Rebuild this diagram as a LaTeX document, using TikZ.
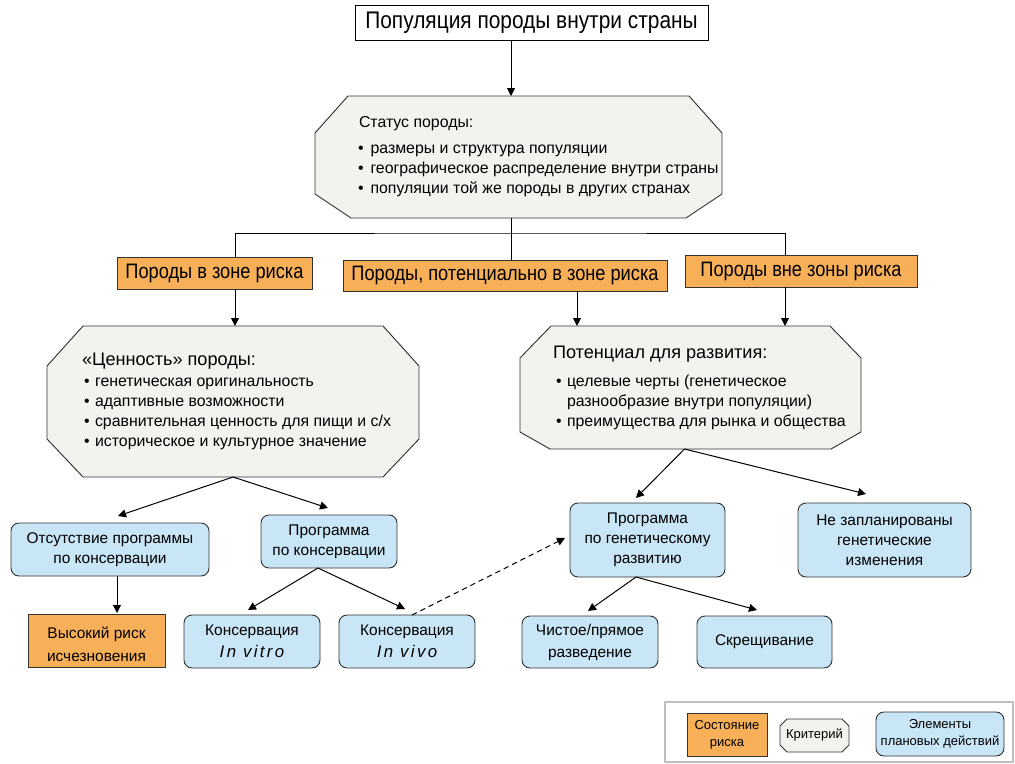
\documentclass[tikz,border=0pt]{standalone}
\usepackage{fontspec}
\setmainfont{Liberation Sans}
\newfontfamily\narrowfont[FakeStretch=0.87]{Liberation Sans}
\usetikzlibrary{arrows.meta,calc}
\definecolor{riskor}{HTML}{F7B058}
\definecolor{planblue}{HTML}{C8E6F6}
\definecolor{critgray}{HTML}{F3F2EE}
\definecolor{edgec}{HTML}{333333}
% octagon drawn on a placed node: name, top dx, top dy, bottom dx, bottom dy
\newcommand\octa[5]{%
  \draw[octline] ($(#1.north west)+(#2,0)$) -- ($(#1.north east)+(-#2,0)$)
    -- ($(#1.north east)+(0,#3)$) -- ($(#1.south east)+(0,-#5)$)
    -- ($(#1.south east)+(-#4,0)$) -- ($(#1.south west)+(#4,0)$)
    -- ($(#1.south west)+(0,-#5)$) -- ($(#1.north west)+(0,#3)$) -- cycle;}
\begin{document}
\begin{tikzpicture}[x=0.75pt,y=-0.75pt,
  every node/.style={inner sep=0pt,outer sep=0pt},
  area/.style n args={4}{at={({(#1+#3)/2},{(#2+#4)/2})},
     minimum width={(#3-#1)*0.75pt},minimum height={(#4-#2)*0.75pt}},
  octline/.style={draw=edgec,line width=0.7pt,fill=critgray},
  titlebox/.style={draw=black,line width=0.7pt,fill=white,font=\narrowfont\fontsize{18}{20}\selectfont},
  riskhead/.style={draw=edgec,line width=0.7pt,fill=riskor,font=\narrowfont\fontsize{15.7}{18}\selectfont},
  riskbox/.style={draw=edgec,line width=0.7pt,fill=riskor,align=center,font=\fontsize{11.6}{17}\selectfont},
  planbox/.style={draw=edgec,line width=0.7pt,fill=planblue,rounded corners=6pt,align=center,font=\fontsize{11.6}{15}\selectfont},
  hdr/.style={anchor=base west,font=\fontsize{13.6}{16}\selectfont},
  btext/.style={anchor=base west,font=\fontsize{11.9}{15}\selectfont},
  legtext/.style={align=center,font=\fontsize{9.75}{12.75}\selectfont},
  ln/.style={draw=black,line width=0.75pt},
  arr/.style={ln,-{Triangle[length=6pt,width=6pt]}},
  darr/.style={arr,dashed,dash pattern=on 4pt off 3pt}]
\fill[white] (0,0) rectangle (1015,764);
\useasboundingbox (0,0) rectangle (1015,764);

% top
\node[titlebox,area={355}{5}{708}{40}] (title) {Популяция породы внутри страны};

% status octagon
\node[area={315}{96}{722}{218}] (status) {};
\octa{status}{33}{37}{36}{24}
\node[btext] (sh) at (359,127) {Статус породы:};
\node[btext] (s1) at (358,153) {\makebox[9.4pt][l]{•}размеры и структура популяции};
\node[btext] (s2) at (358,173) {\makebox[9.4pt][l]{•}географическое распределение внутри страны};
\node[btext] (s3) at (358,193) {\makebox[9.4pt][l]{•}популяции той же породы в других странах};

% risk categories
\node[riskhead,area={117}{257}{312}{289}] (o1) {Породы в зоне риска};
\node[riskhead,area={343}{260}{667}{291}] (o2) {Породы, потенциально в зоне риска};
\node[riskhead,area={685}{255}{917}{287}] (o3) {Породы вне зоны риска};

% value octagon
\node[area={47}{326}{419}{477}] (value) {};
\octa{value}{36}{40}{36}{38}
\node[hdr] (vh) at (82,365) {«Ценность» породы:};
\node[btext] (v1) at (84,386) {\makebox[8.3pt][l]{•}генетическая оригинальность};
\node[btext] (v2) at (84,406) {\makebox[8.3pt][l]{•}адаптивные возможности};
\node[btext] (v3) at (84,426) {\makebox[8.3pt][l]{•}сравнительная ценность для пищи и с/х};
\node[btext] (v4) at (84,446) {\makebox[8.3pt][l]{•}историческое и культурное значение};

% potential octagon
\node[area={520}{326}{861}{449}] (pot) {};
\octa{pot}{31}{32}{30}{17}
\node[hdr] (ph) at (553,358) {Потенциал для развития:};
\node[btext] (p1) at (556,386) {\makebox[8.3pt][l]{•}целевые черты (генетическое};
\node[btext] (p2) at (567,406) {разнообразие внутри популяции)};
\node[btext] (p3) at (556,426) {\makebox[8.3pt][l]{•}преимущества для рынка и общества};

% action boxes
\node[planbox,area={11}{523}{209}{576}] (absent) {Отсутствие программы\\по консервации};
\node[riskbox,area={28}{614}{165}{667},font=\fontsize{11.6}{17.5}\selectfont] (high) {\rule{0pt}{14pt}Высокий риск\\исчезновения};
\node[planbox,area={261}{515}{397}{568}] (cons) {Программа\\по консервации};
\node[planbox,area={184}{615}{320}{668},font=\fontsize{11.6}{16.5}\selectfont] (vitro) {Консервация\\{\fontsize{12.6}{16.5}\selectfont\itshape\addfontfeature{LetterSpace=14}In vitro}};
\node[planbox,area={339}{615}{475}{668},font=\fontsize{11.6}{16.5}\selectfont] (vivo) {Консервация\\{\fontsize{12.6}{16.5}\selectfont\itshape\addfontfeature{LetterSpace=14}In vivo}};
\node[planbox,area={570}{503}{725}{577}] (gen) {Программа\\по генетическому\\развитию};
\node[planbox,area={798}{503}{971}{577}] (noplan) {Не запланированы\\генетические\\изменения};
\node[planbox,area={522}{616}{658}{668},font=\fontsize{11.6}{16.5}\selectfont] (pure) {Чистое/прямое\\разведение};
\node[planbox,area={697}{616}{832}{668}] (cross) {Скрещивание};

% legend
\node[area={665}{702}{1013}{762},draw=black!25,line width=0.8pt] (legend) {};
\node[riskbox,area={687}{713}{767}{756},font=\fontsize{9.75}{12.75}\selectfont] (lrisk) {Состояние\\риска};
\node[area={780}{719}{849}{752}] (lcrit) {};
\octa{lcrit}{7}{7}{7}{7}
\node[legtext] (lcritt) at (lcrit) {Критерий};
\node[planbox,area={876}{712}{1004}{756},font=\fontsize{9.75}{12.75}\selectfont] (lplan) {Элементы\\плановых действий};

% connectors
\coordinate (ax) at (511,0);
\coordinate (hl) at (0,233);
\draw[arr] (title.south -| ax) -- (status.north -| ax);
\draw[ln] (status.south -| ax) -- (hl -| ax);
\coordinate (u1) at ($(o1.north)+(20.5,0)$);
\coordinate (u3) at ($(o3.north)+(-16,0)$);
\draw[ln] (u1) |- (hl -| ax) -| (u3);
\draw[ln] (hl -| ax) -- (o2.north -| ax);
\coordinate (d1) at ($(o1.south)+(20.5,0)$);
\coordinate (d2) at ($(o2.south)+(72,0)$);
\coordinate (d3) at ($(o3.south)+(-16,0)$);
\draw[arr] (d1) -- (d1 |- value.north);
\draw[arr] (d2) -- (d2 |- pot.north);
\draw[arr] (d3) -- (d3 |- pot.north);

\draw[arr] (value.south) -- ($(absent.north)+(8,-7)$);
\draw[arr] (value.south) -- ($(cons.north)+(-1,-7)$);
\draw[arr] ($(absent.south)+(7,0)$) -- ($(high.north)+(20.5,-1)$);
\draw[arr] ($(cons.south)+(-11,0)$) -- ($(vitro.north)+(-4,-5)$);
\draw[arr] ($(cons.south)+(-11,0)$) -- ($(vivo.north)+(-2,-6)$);
\draw[darr] ($(vivo.north)+(5,0)$) -- ($(gen.west)+(-5,-2)$);
\draw[arr] ($(pot.south)+(-6,0)$) -- ($(gen.north)+(-11.5,-5)$);
\draw[arr] ($(pot.south)+(-6,0)$) -- ($(noplan.north)+(-18.5,-9)$);
\draw[arr] ($(gen.south)+(-11.5,0)$) -- ($(pure.north)+(-2,-5)$);
\draw[arr] ($(gen.south)+(-11.5,0)$) -- ($(cross.north)+(-7.5,-6)$);
\end{tikzpicture}
\end{document}
